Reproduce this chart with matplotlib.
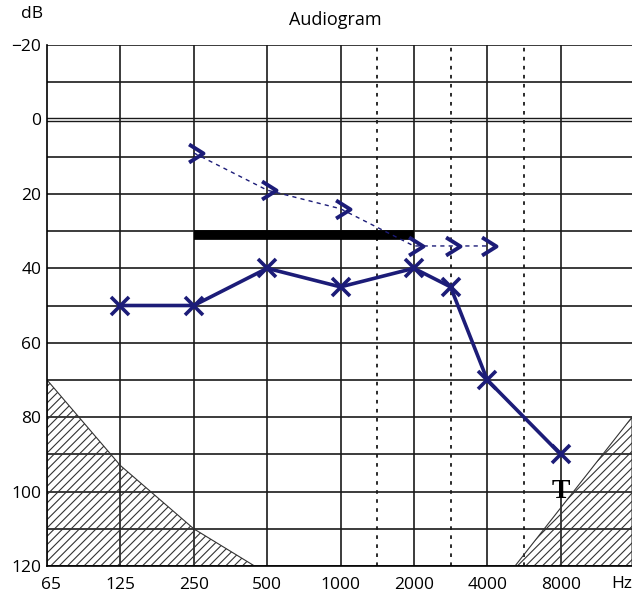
"""
Audiogram recreation: air conduction (X), bone conduction (>) and the
shaded regions outside the audiometer range.
"""

import matplotlib
matplotlib.use("Agg")
import matplotlib.pyplot as plt
from matplotlib.markers import MarkerStyle
from matplotlib.path import Path
from matplotlib.patches import Polygon

# ---- data ----
grid_freqs = [125, 250, 500, 1000, 2000, 4000, 8000]
tick_freqs = [65, 125, 250, 500, 1000, 2000, 4000, 8000]
tick_labels = ["65", "125", "250", "500", "1000", "2000", "4000", "8000"]
half_octaves = [1414, 2828, 5657]
db_ticks = [-20, 0, 20, 40, 60, 80, 100, 120]

air_freqs = [125, 250, 500, 1000, 2000, 2828, 4000, 8000]
air_db = [50, 50, 40, 45, 40, 45, 70, 90]

bone_freqs = [250, 500, 1000, 2000, 2828, 4000]
bone_db = [9, 19, 24, 34, 34, 34]

bar_freqs = [250, 2000]
bar_db = [31, 31]

low_hatch_f = [62.5, 62.5, 125, 250, 444]
low_hatch_db = [120, 70, 93, 110, 120]
high_hatch_f = [5200, 15700, 15700]
high_hatch_db = [120, 80, 120]

NAVY = "#1c1c78"
GRID = "#1a1a1a"
plt.rcParams["font.family"] = ["Open Sans", "DejaVu Sans"]
plt.rcParams["hatch.linewidth"] = 0.8


def chevron():
    verts = [(-0.6, 1), (1, 0), (-0.6, -1)]
    path = Path(verts, [Path.MOVETO, Path.LINETO, Path.LINETO])
    return MarkerStyle(path, fillstyle="none", joinstyle="miter",
                       capstyle="butt")


fig = plt.figure(figsize=(6.32, 5.92), dpi=100)
ax = fig.add_axes([47 / 632, 26 / 592, 1 - 47 / 632, 521 / 592])
ax.set_xscale("log", base=2)
ax.set_xlim(62.5, 15700)
ax.set_ylim(120, -20)

# grid
for f in grid_freqs:
    ax.axvline(f, color=GRID, lw=1.2, zorder=1)
for f in half_octaves:
    ax.axvline(f, color=GRID, lw=1.3, ls=(0, (2, 3)), zorder=1)
for d in range(-20, 121, 10):
    if d == 0:
        ax.axhline(-0.4, color=GRID, lw=1.0, zorder=1)
        ax.axhline(0.4, color=GRID, lw=1.0, zorder=1)
    else:
        ax.axhline(d, color=GRID, lw=1.2, zorder=1)

# hatched regions
ax.add_patch(Polygon(list(zip(low_hatch_f, low_hatch_db)), closed=True,
                     facecolor="none", edgecolor="#333333", lw=0.8,
                     hatch="////", zorder=2))
ax.add_patch(Polygon(list(zip(high_hatch_f, high_hatch_db)), closed=True,
                     facecolor="none", edgecolor="#333333", lw=0.8,
                     hatch="////", zorder=2))

# masking bar
ax.plot(bar_freqs, bar_db, color="black", lw=7, solid_capstyle="butt", zorder=3)

# bone conduction
ax.plot(bone_freqs, bone_db, color=NAVY, lw=1.0, ls=(0, (3, 3)), zorder=4)
ax.plot(bone_freqs, bone_db, ls="none", marker=chevron(), ms=13,
        mec=NAVY, mew=2.8, zorder=5)

# air conduction
ax.plot(air_freqs, air_db, color=NAVY, lw=2.6, marker="x", ms=13,
        mew=2.6, zorder=6)

ax.text(8000, 100, "T", fontsize=20, fontweight="bold",
        family=["Liberation Serif", "DejaVu Serif"], ha="center", va="center",
        zorder=7)

# axes styling
for side in ["top", "right"]:
    ax.spines[side].set_visible(False)
ax.spines["left"].set_linewidth(1.2)
ax.spines["bottom"].set_linewidth(1.2)
ax.set_xticks(tick_freqs)
ax.set_xticklabels(tick_labels)
ax.minorticks_off()
ax.set_yticks(db_ticks)
ax.set_yticklabels([str(d).replace("-", "\u2212") for d in db_ticks])
ax.tick_params(length=0, labelsize=12.5)
ax.tick_params(axis="x", pad=8)
ax.tick_params(axis="y", pad=4)

fig.text(335 / 632, 1 - 20 / 592, "Audiogram", fontsize=13, ha="center",
         va="center")
fig.text(32 / 632, 1 - 14 / 592, "dB", fontsize=12.5, ha="center", va="center")
fig.text(611 / 632, 1 - 584 / 592, "Hz", fontsize=12.5, ha="left", va="center")

fig.savefig("out.png", dpi=100)
